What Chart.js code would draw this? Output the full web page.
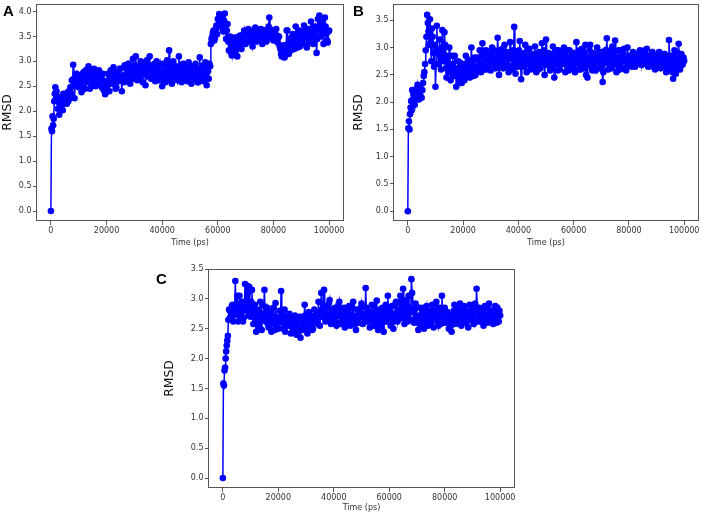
<!DOCTYPE html>
<html>
<head>
<meta charset="utf-8">
<script src="https://cdn.jsdelivr.net/npm/chart.js"></script>
<style>
  html, body { margin: 0; padding: 0; background: #fff; }
  body { width: 702px; height: 516px; position: relative; overflow: hidden; }
  canvas { position: absolute; }
  .painel { position: absolute; font: bold 15px "Liberation Sans", Arial, sans-serif; line-height: 15px; color: #000; }
</style>
</head>
<body>
<canvas id="graficoA" width="351" height="258" style="left:0;top:0;width:351px;height:258px"></canvas>
<canvas id="graficoB" width="351" height="258" style="left:351px;top:0;width:351px;height:258px"></canvas>
<canvas id="graficoC" width="380" height="258" style="left:150px;top:258px;width:380px;height:258px"></canvas>
<div class="painel" style="left:3px;top:3px">A</div>
<div class="painel" style="left:353px;top:3px">B</div>
<div class="painel" style="left:156px;top:271px">C</div>
<script>
// ─── DADOS ───────────────────────────────────────────────────────────────────
// tempo de simulação (ps), comum aos três sistemas
var tempo = [
  0, 200, 400, 600, 800, 1000, 1200, 1400, 1600, 1800, 2000,
  2250, 2500, 2750, 3000, 3250, 3500, 3750, 4000, 4250, 4500, 4750,
  5000, 5250, 5500, 5750, 6000, 6250, 6500, 6750, 7000, 7250, 7500, 7750, 8000, 8250, 8500, 8750, 9000, 9250, 9500, 9750,
  10000, 10250, 10500, 10750, 11000, 11250, 11500, 11750, 12000, 12250, 12500, 12750, 13000, 13250, 13500, 13750, 14000, 14250, 14500, 14750,
  15000, 15250, 15500, 15750, 16000, 16250, 16500, 16750, 17000, 17250, 17500, 17750, 18000, 18250, 18500, 18750, 19000, 19250, 19500, 19750,
  20000, 20250, 20500, 20750, 21000, 21250, 21500, 21750, 22000, 22250, 22500, 22750, 23000, 23250, 23500, 23750, 24000, 24250, 24500, 24750,
  25000, 25250, 25500, 25750, 26000, 26250, 26500, 26750, 27000, 27250, 27500, 27750, 28000, 28250, 28500, 28750, 29000, 29250, 29500, 29750,
  30000, 30250, 30500, 30750, 31000, 31250, 31500, 31750, 32000, 32250, 32500, 32750, 33000, 33250, 33500, 33750, 34000, 34250, 34500, 34750,
  35000, 35250, 35500, 35750, 36000, 36250, 36500, 36750, 37000, 37250, 37500, 37750, 38000, 38250, 38500, 38750, 39000, 39250, 39500, 39750,
  40000, 40250, 40500, 40750, 41000, 41250, 41500, 41750, 42000, 42250, 42500, 42750, 43000, 43250, 43500, 43750, 44000, 44250, 44500, 44750,
  45000, 45250, 45500, 45750, 46000, 46250, 46500, 46750, 47000, 47250, 47500, 47750, 48000, 48250, 48500, 48750, 49000, 49250, 49500, 49750,
  50000, 50250, 50500, 50750, 51000, 51250, 51500, 51750, 52000, 52250, 52500, 52750, 53000, 53250, 53500, 53750, 54000, 54250, 54500, 54750,
  55000, 55250, 55500, 55750, 56000, 56250, 56500, 56750, 57000, 57250, 57500, 57750, 58000, 58250, 58500, 58750, 59000, 59250, 59500, 59750,
  60000, 60250, 60500, 60750, 61000, 61250, 61500, 61750, 62000, 62250, 62500, 62750, 63000, 63250, 63500, 63750, 64000, 64250, 64500, 64750,
  65000, 65250, 65500, 65750, 66000, 66250, 66500, 66750, 67000, 67250, 67500, 67750, 68000, 68250, 68500, 68750, 69000, 69250, 69500, 69750,
  70000, 70250, 70500, 70750, 71000, 71250, 71500, 71750, 72000, 72250, 72500, 72750, 73000, 73250, 73500, 73750, 74000, 74250, 74500, 74750,
  75000, 75250, 75500, 75750, 76000, 76250, 76500, 76750, 77000, 77250, 77500, 77750, 78000, 78250, 78500, 78750, 79000, 79250, 79500, 79750,
  80000, 80250, 80500, 80750, 81000, 81250, 81500, 81750, 82000, 82250, 82500, 82750, 83000, 83250, 83500, 83750, 84000, 84250, 84500, 84750,
  85000, 85250, 85500, 85750, 86000, 86250, 86500, 86750, 87000, 87250, 87500, 87750, 88000, 88250, 88500, 88750, 89000, 89250, 89500, 89750,
  90000, 90250, 90500, 90750, 91000, 91250, 91500, 91750, 92000, 92250, 92500, 92750, 93000, 93250, 93500, 93750, 94000, 94250, 94500, 94750,
  95000, 95250, 95500, 95750, 96000, 96250, 96500, 96750, 97000, 97250, 97500, 97750, 98000, 98250, 98500, 98750, 99000, 99250, 99500, 99750,
  100000
];

var rmsdA = [
  0.00, 1.65, 1.60, 1.90, 1.72, 1.85, 2.20, 2.35, 2.48, 2.25, 2.40,
  2.30, 2.05, 2.18, 1.93, 2.10, 2.28, 2.20, 2.12, 2.02, 2.35, 2.25,
  2.18, 2.32, 2.30, 2.15, 2.38, 2.20, 2.25, 2.42, 2.48, 2.35, 2.62, 2.50, 2.93, 2.65, 2.26, 2.58, 2.55, 2.75, 2.70, 2.52,
  2.48, 2.65, 2.72, 2.50, 2.38, 2.60, 2.65, 2.78, 2.55, 2.45, 2.82, 2.68, 2.60, 2.75, 2.90, 2.58, 2.45, 2.82, 2.70, 2.52,
  2.58, 2.72, 2.85, 2.62, 2.50, 2.78, 2.68, 2.55, 2.76, 2.82, 2.55, 2.68, 2.70, 2.48, 2.62, 2.75, 2.42, 2.58, 2.34, 2.52,
  2.60, 2.45, 2.75, 2.62, 2.40, 2.70, 2.82, 2.58, 2.55, 2.78, 2.88, 2.65, 2.62, 2.45, 2.48, 2.72, 2.78, 2.60, 2.68, 2.85,
  2.85, 2.62, 2.40, 2.70, 2.72, 2.58, 2.92, 2.68, 2.60, 2.85, 2.78, 2.95, 2.95, 2.70, 2.55, 2.88, 2.82, 2.65, 3.05, 2.78,
  2.70, 2.92, 3.10, 2.75, 2.62, 2.85, 2.88, 2.68, 2.75, 3.00, 2.98, 2.72, 2.58, 2.80, 2.85, 2.95, 2.52, 2.78, 3.02, 2.70,
  2.72, 2.90, 3.10, 2.82, 2.65, 2.78, 2.92, 2.68, 2.80, 2.95, 2.60, 2.85, 3.00, 2.72, 2.75, 2.62, 2.88, 2.95, 2.62, 2.78,
  2.50, 2.72, 2.95, 2.80, 2.70, 2.58, 2.85, 3.02, 2.62, 2.75, 3.22, 2.90, 2.78, 2.65, 2.55, 2.82, 3.00, 2.72, 2.68, 2.88,
  2.90, 2.70, 2.62, 2.82, 3.10, 2.88, 2.75, 2.60, 2.58, 2.78, 2.95, 2.72, 2.70, 2.92, 2.85, 2.62, 2.60, 2.80, 2.98, 2.75,
  2.72, 2.90, 2.55, 2.68, 2.88, 2.75, 2.65, 2.82, 2.95, 2.70, 2.78, 2.58, 2.58, 2.85, 3.08, 2.72, 2.70, 2.62, 2.82, 2.92,
  2.60, 2.75, 2.98, 2.70, 2.52, 2.82, 2.80, 2.65, 2.95, 2.90, 3.35, 3.45, 3.50, 3.58, 3.62, 3.42, 3.48, 3.65, 3.72, 3.55,
  3.85, 3.70, 3.95, 3.80, 3.70, 3.90, 3.88, 3.65, 3.60, 3.82, 3.96, 3.72, 3.45, 3.62, 3.75, 3.40, 3.22, 3.38, 3.50, 3.18,
  3.12, 3.30, 3.40, 3.15, 3.20, 3.42, 3.48, 3.25, 3.10, 3.38, 3.35, 3.50, 3.52, 3.30, 3.25, 3.45, 3.45, 3.55, 3.62, 3.38,
  3.35, 3.50, 3.55, 3.62, 3.65, 3.45, 3.42, 3.58, 3.60, 3.38, 3.30, 3.48, 3.52, 3.65, 3.68, 3.45, 3.40, 3.55, 3.58, 3.42,
  3.45, 3.60, 3.65, 3.50, 3.35, 3.52, 3.55, 3.62, 3.62, 3.45, 3.40, 3.55, 3.58, 3.70, 3.88, 3.60, 3.48, 3.55, 3.62, 3.45,
  3.42, 3.58, 3.55, 3.45, 3.65, 3.52, 3.38, 3.48, 3.50, 3.30, 3.25, 3.15, 3.10, 3.28, 3.32, 3.12, 3.08, 3.25, 3.20, 3.62,
  3.62, 3.35, 3.15, 3.30, 3.45, 3.22, 3.30, 3.50, 3.55, 3.38, 3.25, 3.45, 3.70, 3.52, 3.40, 3.28, 3.48, 3.62, 3.30, 3.45,
  3.60, 3.42, 3.35, 3.55, 3.72, 3.48, 3.50, 3.62, 3.28, 3.45, 3.65, 3.38, 3.45, 3.58, 3.80, 3.62, 3.55, 3.35, 3.40, 3.65,
  3.70, 3.50, 3.17, 3.45, 3.85, 3.62, 3.92, 3.75, 3.50, 3.68, 3.80, 3.55, 3.35, 3.62, 3.88, 3.70, 3.55, 3.42, 3.38, 3.60,
  3.62
];

var rmsdB = [
  0.00, 1.52, 1.65, 1.50, 1.78, 1.90, 2.02, 1.85, 2.22, 2.05, 2.15,
  2.00, 1.95, 2.20, 2.10, 2.25, 2.32, 2.12, 2.05, 2.18, 2.25, 2.10,
  2.08, 2.22, 2.35, 2.48, 2.55, 2.70, 2.95, 3.20, 3.60, 3.45, 3.30, 3.05, 3.52, 3.10, 2.75, 3.35, 3.20, 2.90, 2.65, 3.05,
  2.28, 2.70, 3.40, 2.95, 2.90, 2.70, 3.15, 2.85, 2.60, 3.00, 3.32, 2.80, 2.75, 3.28, 3.05, 2.62, 2.45, 2.78, 2.85, 2.55,
  3.00, 2.70, 2.40, 2.62, 2.70, 2.85, 2.55, 2.48, 2.85, 2.62, 2.28, 2.52, 2.60, 2.75, 2.45, 2.38, 2.72, 2.58, 2.35, 2.65,
  2.62, 2.48, 2.40, 2.70, 2.85, 2.60, 2.55, 2.78, 2.70, 2.52, 2.45, 2.68, 3.00, 2.75, 2.58, 2.48, 2.78, 2.82, 2.50, 2.65,
  2.82, 2.58, 2.62, 2.80, 2.95, 2.70, 2.55, 2.68, 3.08, 2.85, 2.70, 2.60, 2.85, 2.95, 2.60, 2.75, 2.92, 2.62, 2.75, 2.88,
  2.58, 2.82, 3.00, 2.70, 2.72, 2.95, 2.88, 2.62, 2.65, 2.80, 3.18, 2.90, 2.50, 2.72, 2.95, 2.68, 2.75, 2.98, 2.62, 2.85,
  3.05, 2.75, 2.70, 2.92, 2.85, 2.65, 2.55, 2.80, 3.10, 2.88, 2.80, 2.60, 2.68, 2.95, 3.38, 2.85, 2.52, 2.78, 2.90, 2.65,
  2.75, 2.95, 3.12, 2.80, 2.42, 2.68, 2.88, 2.72, 2.65, 2.90, 3.05, 2.75, 2.55, 2.70, 2.82, 2.95, 2.98, 2.70, 2.60, 2.85,
  2.85, 2.62, 2.70, 2.88, 3.02, 2.75, 2.55, 2.82, 2.78, 2.60, 2.92, 2.80, 2.62, 2.72, 3.08, 2.85, 2.75, 2.95, 2.50, 2.70,
  3.15, 2.85, 2.68, 2.78, 2.90, 2.70, 2.58, 2.82, 2.80, 2.62, 3.02, 2.88, 2.45, 2.70, 2.85, 2.95, 2.70, 2.58, 2.95, 2.78,
  2.60, 2.75, 2.88, 2.70, 2.72, 2.90, 3.00, 2.78, 2.55, 2.68, 2.82, 2.95, 2.68, 2.58, 2.95, 2.80, 2.78, 2.65, 2.62, 2.85,
  2.90, 2.70, 2.55, 2.78, 3.10, 2.88, 2.72, 2.60, 2.85, 2.95, 2.60, 2.72, 2.98, 2.82, 2.75, 2.62, 2.88, 3.05, 2.50, 2.72,
  2.45, 2.70, 2.82, 2.95, 3.05, 2.78, 2.65, 2.58, 2.90, 2.80, 2.72, 2.62, 2.58, 2.85, 3.00, 2.75, 2.80, 2.92, 2.62, 2.70,
  2.92, 2.65, 2.37, 2.55, 2.78, 2.88, 2.95, 2.72, 3.17, 2.85, 2.60, 2.70, 2.85, 2.95, 2.72, 2.62, 3.02, 2.80, 2.68, 2.92,
  3.13, 2.78, 2.55, 2.70, 2.82, 2.95, 2.70, 2.60, 2.95, 2.82, 2.62, 2.75, 2.88, 2.98, 2.75, 2.62, 2.58, 2.80, 3.00, 2.72,
  2.72, 2.85, 2.85, 2.68, 2.65, 2.80, 2.92, 2.78, 2.78, 2.65, 2.70, 2.88, 2.88, 2.72, 2.75, 2.85, 2.95, 2.78, 2.68, 2.82,
  2.82, 2.70, 2.90, 2.95, 2.72, 2.80, 2.98, 2.85, 2.65, 2.75, 2.85, 2.70, 2.78, 2.88, 2.92, 2.65, 2.70, 2.82, 2.60, 2.75,
  2.85, 2.68, 2.75, 2.90, 2.92, 2.72, 2.62, 2.85, 2.80, 2.68, 2.70, 2.88, 2.88, 2.65, 2.55, 2.80, 2.78, 2.62, 3.14, 2.85,
  2.62, 2.78, 2.85, 2.55, 2.43, 2.70, 2.95, 2.80, 2.52, 2.65, 2.78, 2.90, 3.07, 2.72, 2.60, 2.85, 2.88, 2.68, 2.70, 2.82,
  2.76
];

var rmsdC = [
  0.00, 1.58, 1.55, 1.80, 1.85, 2.00, 2.12, 2.22, 2.30, 2.38, 2.65,
  2.82, 2.80, 2.70, 2.65, 2.88, 2.90, 2.62, 2.72, 2.85, 3.30, 2.78,
  2.85, 3.05, 2.62, 2.78, 3.05, 2.70, 2.75, 2.92, 2.95, 2.62, 2.68, 2.88, 3.25, 2.95, 2.80, 3.22, 3.10, 2.72, 3.20, 2.85,
  2.70, 2.95, 3.15, 2.72, 2.58, 2.80, 2.90, 2.65, 2.45, 2.70, 2.82, 2.55, 2.60, 2.78, 2.95, 2.70, 2.48, 2.65, 2.75, 2.88,
  3.15, 2.70, 2.62, 2.80, 2.85, 2.58, 2.52, 2.72, 2.78, 2.62, 2.45, 2.68, 2.70, 2.85, 2.58, 2.48, 2.93, 2.70, 2.65, 2.52,
  2.50, 2.68, 2.80, 2.62, 3.13, 2.75, 2.60, 2.50, 2.72, 2.82, 2.45, 2.62, 2.68, 2.55, 2.55, 2.72, 2.75, 2.60, 2.42, 2.58,
  2.65, 2.48, 2.50, 2.68, 2.72, 2.55, 2.40, 2.62, 2.60, 2.45, 2.55, 2.70, 2.35, 2.52, 2.70, 2.58, 2.48, 2.65, 2.90, 2.72,
  2.62, 2.50, 2.42, 2.68, 2.78, 2.60, 2.55, 2.72, 2.68, 2.48, 2.50, 2.65, 2.82, 2.70, 2.60, 2.75, 2.75, 2.58, 2.95, 2.72,
  2.55, 2.80, 3.10, 2.70, 2.72, 2.88, 3.15, 2.85, 2.62, 2.75, 2.88, 2.65, 2.70, 2.92, 2.98, 2.68, 2.58, 2.82, 2.80, 2.62,
  2.65, 2.78, 2.85, 2.60, 2.55, 2.72, 2.75, 2.88, 2.95, 2.70, 2.60, 2.58, 2.80, 2.72, 2.68, 2.85, 2.52, 2.65, 2.78, 2.62,
  2.62, 2.80, 2.88, 2.65, 2.55, 2.70, 2.72, 2.85, 2.95, 2.68, 2.65, 2.58, 2.48, 2.72, 2.82, 2.62, 2.60, 2.78, 2.75, 2.85,
  2.92, 2.70, 2.58, 2.75, 2.70, 2.62, 3.18, 2.85, 2.62, 2.72, 2.80, 2.65, 2.52, 2.70, 2.75, 2.90, 2.65, 2.55, 2.88, 2.70,
  2.55, 2.78, 2.97, 2.65, 2.48, 2.60, 2.72, 2.82, 2.60, 2.52, 2.85, 2.68, 2.45, 2.62, 2.78, 2.90, 2.62, 2.75, 3.05, 2.80,
  2.70, 2.85, 2.55, 2.68, 2.88, 2.72, 2.50, 2.62, 2.75, 2.92, 2.95, 2.70, 2.62, 2.78, 2.82, 2.95, 3.05, 2.68, 2.68, 2.85,
  3.17, 2.80, 2.58, 2.72, 2.90, 2.98, 2.72, 2.62, 3.05, 2.85, 2.65, 2.78, 3.33, 3.10, 2.80, 2.65, 2.60, 2.82, 2.92, 2.70,
  2.72, 2.60, 2.48, 2.70, 2.85, 2.72, 2.62, 2.55, 2.78, 2.85, 2.50, 2.65, 2.70, 2.82, 2.88, 2.62, 2.55, 2.78, 2.75, 2.60,
  2.65, 2.80, 2.90, 2.72, 2.52, 2.68, 2.80, 2.92, 2.95, 2.70, 2.62, 2.55, 2.75, 2.85, 2.58, 2.72, 3.05, 2.80, 2.70, 2.60,
  2.85, 2.68, 2.60, 2.75, 2.78, 2.62, 2.50, 2.72, 2.68, 2.55, 2.45, 2.62, 2.72, 2.80, 2.90, 2.68, 2.58, 2.75, 2.82, 2.65,
  2.65, 2.80, 2.92, 2.70, 2.55, 2.72, 2.78, 2.85, 2.88, 2.62, 2.60, 2.80, 2.75, 2.65, 2.52, 2.78, 2.90, 2.72, 2.68, 2.85,
  2.80, 2.62, 2.58, 2.75, 2.92, 2.78, 3.17, 2.85, 2.70, 2.62, 2.85, 2.72, 2.62, 2.80, 2.78, 2.65, 2.55, 2.72, 2.88, 2.70,
  2.70, 2.85, 2.60, 2.72, 2.92, 2.68, 2.65, 2.80, 2.80, 2.62, 2.58, 2.75, 2.75, 2.88, 2.68, 2.60, 2.85, 2.72, 2.62, 2.80,
  2.72
];

var ticksX = [0, 20000, 40000, 60000, 80000, 100000];
var ticksYA = [0, 0.5, 1.0, 1.5, 2.0, 2.5, 3.0, 3.5, 4.0];
var ticksYBC = [0, 0.5, 1.0, 1.5, 2.0, 2.5, 3.0, 3.5];

// ─── MOLDURA (as quatro bordas do eixo, estilo matplotlib) ───
var molduraPlugin = {
  id: 'moldura',
  afterDatasetsDraw: function(chart) {
    var a = chart.chartArea;
    var ctx = chart.ctx;
    ctx.save();
    ctx.strokeStyle = '#555';
    ctx.lineWidth = 1;
    ctx.strokeRect(Math.round(a.left) - 0.5, Math.round(a.top) + 0.5,
      Math.round(a.right - a.left) + 1, Math.round(a.bottom - a.top) - 1);
    ctx.restore();
  }
};

var FONTE = '"DejaVu Sans", sans-serif';

function montarGrafico(id, valores, ticksY, yMin, yMax, cfg) {
  var pontos = tempo.map(function(t, i) { return { x: t, y: valores[i] }; });
  return new Chart(document.getElementById(id), {
    type: 'line',
    data: {
      datasets: [{
        data: pontos,
        borderColor: '#0000ff',
        backgroundColor: '#0000ff',
        borderWidth: 1.5,
        pointRadius: 3.3,
        pointBorderWidth: 0,
        pointBackgroundColor: '#0000ff',
        tension: 0,
        fill: false
      }]
    },
    options: {
      responsive: false,
      animation: false,
      events: [],
      layout: { padding: cfg.padding },
      plugins: { legend: { display: false }, tooltip: { enabled: false } },
      scales: {
        x: {
          type: 'linear',
          min: -5000,
          max: 105000,
          afterBuildTicks: function(s) { s.ticks = ticksX.map(function(v) { return { value: v }; }); },
          afterFit: function(s) { s.height = cfg.alturaX; s.paddingLeft = 0; s.paddingRight = 0; },
          ticks: {
            color: '#333', padding: 1, maxRotation: 0, autoSkip: false,
            font: { family: FONTE, size: 8 },
            callback: function(v) { return String(v); }
          },
          grid: { display: true, drawOnChartArea: false, drawTicks: true, tickLength: 4, tickColor: '#555', tickWidth: 1 },
          border: { display: false },
          title: { display: true, text: 'Time (ps)', color: '#333', font: { family: FONTE, size: 8 }, padding: { top: 0, bottom: cfg.padTituloX } }
        },
        y: {
          min: yMin,
          max: yMax,
          afterBuildTicks: function(s) { s.ticks = ticksY.map(function(v) { return { value: v }; }); },
          afterFit: function(s) { s.width = cfg.larguraY; s.paddingTop = 0; s.paddingBottom = 0; },
          ticks: {
            color: '#333', padding: 1.5, autoSkip: false,
            font: { family: FONTE, size: 8 },
            callback: function(v) { return Number(v).toFixed(1); }
          },
          grid: { display: true, drawOnChartArea: false, drawTicks: true, tickLength: 4, tickColor: '#555', tickWidth: 1 },
          border: { display: false },
          title: { display: true, text: 'RMSD', color: '#111', font: { family: FONTE, size: 12.4 }, padding: { top: cfg.padTituloY, bottom: 0 } }
        }
      }
    },
    plugins: [molduraPlugin]
  });
}

montarGrafico('graficoA', rmsdA, ticksYA, -0.2, 4.15, {
  padding: { left: 0, right: 8, top: 3, bottom: 0 },
  larguraY: 37, alturaX: 37, padTituloX: 10, padTituloY: 0
});
montarGrafico('graficoB', rmsdB, ticksYBC, -0.18, 3.80, {
  padding: { left: 0, right: 3, top: 3, bottom: 0 },
  larguraY: 43, alturaX: 37, padTituloX: 10, padTituloY: 0.6
});
montarGrafico('graficoC', rmsdC, ticksYBC, -0.167, 3.5, {
  padding: { left: 0, right: 16, top: 11, bottom: 0 },
  larguraY: 59, alturaX: 28, padTituloX: 3, padTituloY: 12.6
});
</script>
</body>
</html>
